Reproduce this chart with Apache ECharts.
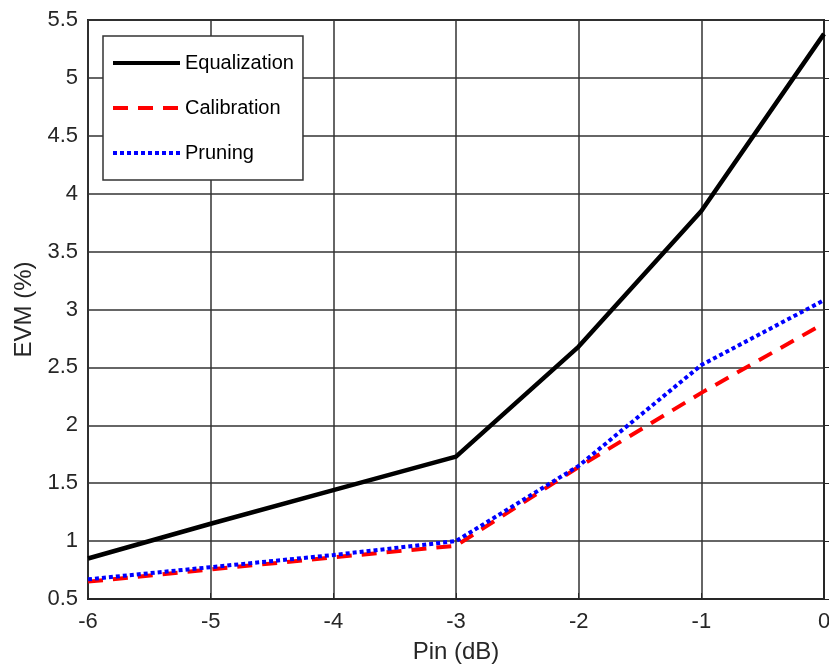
<!DOCTYPE html>
<html>
<head>
<meta charset="utf-8">
<script src="https://cdn.jsdelivr.net/npm/echarts@6/dist/echarts.min.js"></script>
<style>html,body{margin:0;padding:0;background:#fff}#c{width:829px;height:666px}</style>
</head>
<body>
<div id="c"></div>
<script>
const pin = [-6, -5, -4, -3, -2, -1, 0];
const equalization = [0.85, 1.15, 1.44, 1.73, 2.68, 3.85, 5.38];
const calibration = [0.65, 0.755, 0.86, 0.96, 1.64, 2.28, 2.88];
const pruning = [0.67, 0.775, 0.88, 1.0, 1.65, 2.52, 3.08];
const xTicks = [-6, -5, -4, -3, -2, -1, 0];
const yTicks = [0.5, 1, 1.5, 2, 2.5, 3, 3.5, 4, 4.5, 5, 5.5];

const font = 'Liberation Sans, Arial, Helvetica, sans-serif';
const pair = (xs, ys) => xs.map((x, i) => [x, ys[i]]);

const chart = echarts.init(document.getElementById('c'), null, {renderer: 'canvas'});
chart.setOption({
  animation: false,
  backgroundColor: '#fff',
  grid: {left: 88, top: 20, right: 5, bottom: 67, outerBoundsMode: 'none', containLabel: false,
         show: true, borderColor: '#262626', borderWidth: 2, backgroundColor: 'transparent'},
  legend: {
    show: true, orient: 'vertical', left: 103, top: 36,
    padding: [17, 9, 17, 8],
    backgroundColor: '#fff', borderColor: '#333', borderWidth: 1.5,
    itemWidth: 67, itemHeight: 14, itemGap: 25,
    itemStyle: {opacity: 0},
    lineStyle: {width: 4},
    textStyle: {fontFamily: font, fontSize: 20, color: '#000'},
    data: ['Equalization', 'Calibration', 'Pruning']
  },
  xAxis: {
    type: 'value', min: xTicks[0], max: xTicks[xTicks.length - 1], interval: 1,
    name: 'Pin (dB)', nameLocation: 'middle', nameGap: 41,
    nameTextStyle: {fontFamily: font, fontSize: 24, color: '#262626'},
    axisLine: {show: true, lineStyle: {color: '#262626', width: 2}},
    axisTick: {show: true, inside: true, length: 6, lineStyle: {color: '#262626'}},
    axisLabel: {fontFamily: font, fontSize: 22, color: '#262626', margin: 12},
    splitLine: {show: true, lineStyle: {color: '#333', width: 1.5}}
  },
  yAxis: {
    type: 'value', min: yTicks[0], max: yTicks[yTicks.length - 1], interval: 0.5,
    name: 'EVM (%)', nameLocation: 'middle', nameGap: 50,
    nameTextStyle: {fontFamily: font, fontSize: 24, color: '#262626'},
    axisLine: {show: true, lineStyle: {color: '#262626', width: 2}},
    axisTick: {show: true, inside: true, length: 6, lineStyle: {color: '#262626'}},
    axisLabel: {fontFamily: font, fontSize: 22, color: '#262626', margin: 10,
      formatter: v => String(v)},
    splitLine: {show: true, lineStyle: {color: '#333', width: 1.5}}
  },
  series: [
    {name: 'Equalization', type: 'line', data: pair(pin, equalization), symbol: 'none', showSymbol: false,
     itemStyle: {color: '#000'}, lineStyle: {color: '#000', width: 4.5, type: 'solid'}, z: 3},
    {name: 'Calibration', type: 'line', data: pair(pin, calibration), symbol: 'none', showSymbol: false,
     itemStyle: {color: '#ff0000'}, lineStyle: {color: '#ff0000', width: 4, type: [15, 10]}, z: 4},
    {name: 'Pruning', type: 'line', data: pair(pin, pruning), symbol: 'none', showSymbol: false,
     itemStyle: {color: '#0000ff'}, lineStyle: {color: '#0000ff', width: 4, type: [4, 3]}, z: 5}
  ]
});
</script>
</body>
</html>
